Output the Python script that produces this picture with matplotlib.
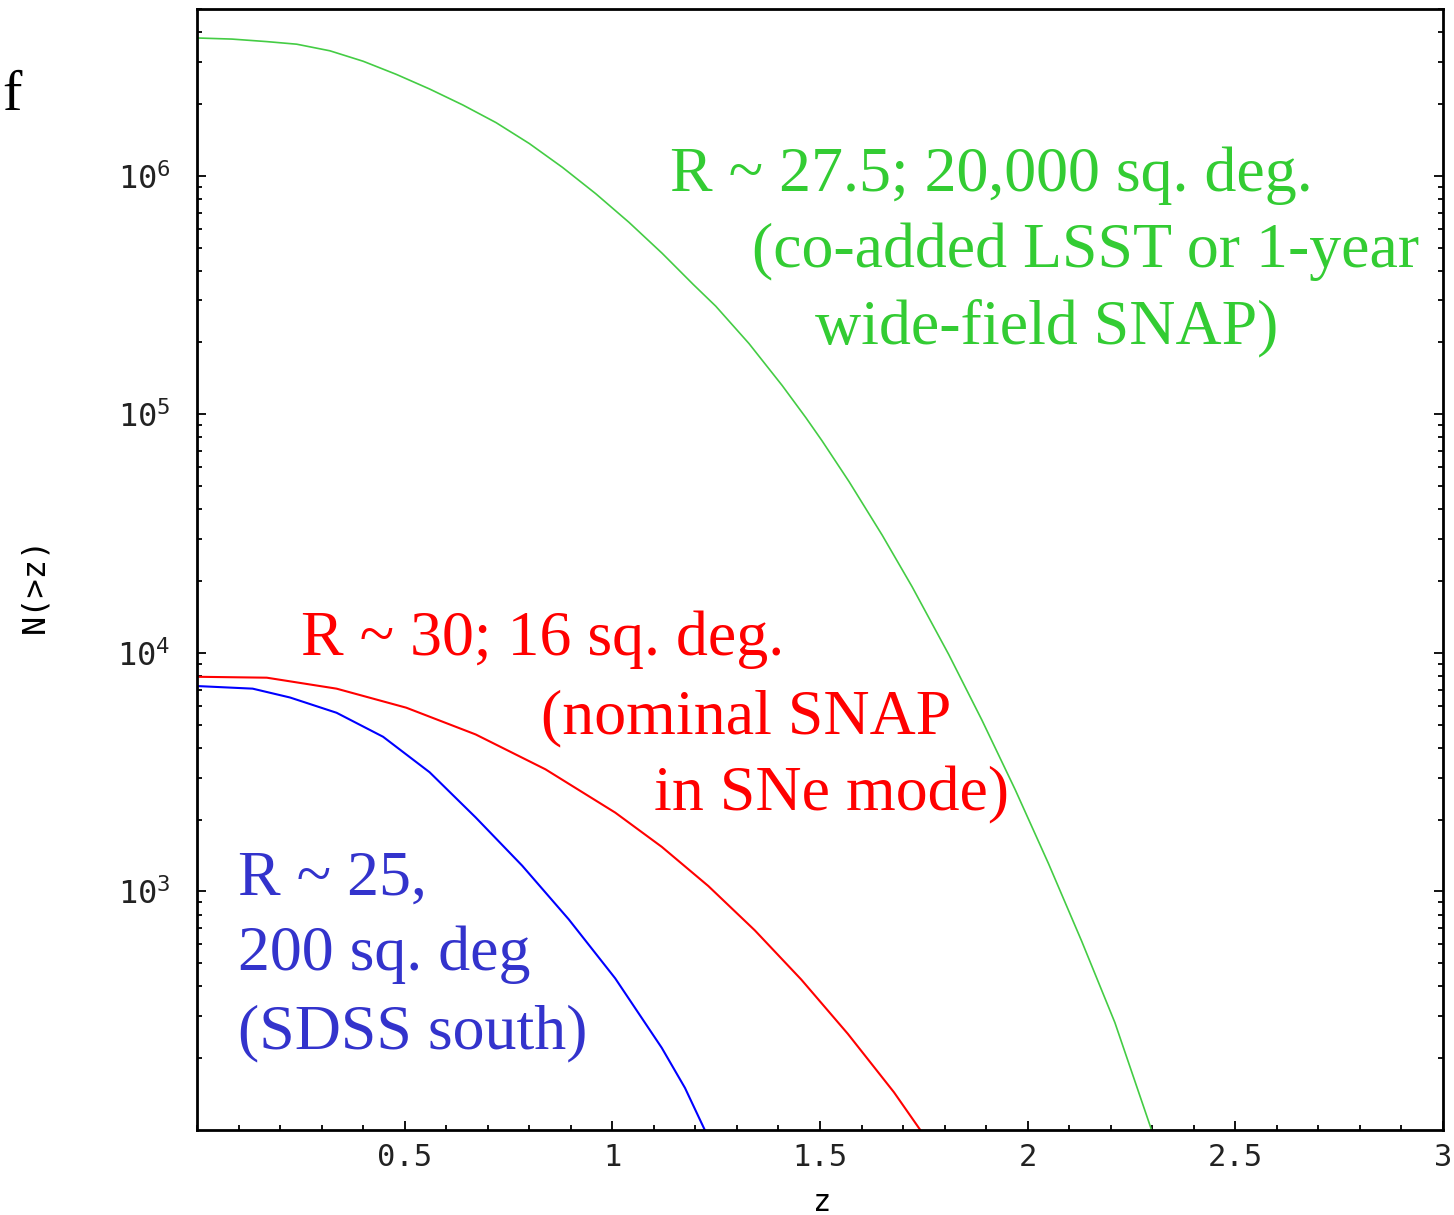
import matplotlib
matplotlib.use("Agg")

import matplotlib.pyplot as plt
import numpy as np
from matplotlib.ticker import FixedLocator, FixedFormatter, LogLocator, MultipleLocator, NullFormatter

# z and N(>z)
z_green = [0, 0.084, 0.168, 0.24, 0.32, 0.40, 0.48, 0.56, 0.64, 0.72, 0.80, 0.88, 0.96, 1.04,
           1.12, 1.195, 1.249, 1.329, 1.409, 1.466, 1.505, 1.57, 1.65, 1.722, 1.81, 1.89, 1.97,
           2.05, 2.13, 2.21, 2.30]
n_green = [3.78e6, 3.74e6, 3.65e6, 3.56e6, 3.34e6, 3.02e6, 2.66e6, 2.31e6, 1.98e6, 1.67e6, 1.365e6,
           1.084e6, 8.41e5, 6.38e5, 4.73e5, 3.50e5, 2.84e5, 1.98e5, 1.32e5, 9.68e4, 7.74e4, 5.22e4,
           3.11e4, 1.89e4, 9840, 5220, 2670, 1310, 619, 282, 98]

z_red = [0, 0.168, 0.336, 0.504, 0.671, 0.839, 1.007, 1.119, 1.231, 1.343, 1.455, 1.567, 1.678, 1.745]
n_red = [7940, 7870, 7080, 5890, 4550, 3250, 2140, 1538, 1054, 687, 427, 253, 144, 98]

z_blue = [0, 0.134, 0.224, 0.336, 0.448, 0.560, 0.671, 0.783, 0.895, 1.007, 1.119, 1.175, 1.225]
n_blue = [7260, 7080, 6500, 5610, 4450, 3160, 2042, 1282, 764, 432, 221, 150, 98]

x_ticks = [0.5, 1, 1.5, 2, 2.5, 3]
x_ticklabels = ["0.5", "1", "1.5", "2", "2.5", "3"]
y_ticks = [1e3, 1e4, 1e5, 1e6]
y_ticklabels = [r"$\mathregular{10^{3}}$", r"$\mathregular{10^{4}}$",
                r"$\mathregular{10^{5}}$", r"$\mathregular{10^{6}}$"]

W, H = 1454, 1215
fig = plt.figure(figsize=(W / 100, H / 100), dpi=100)
ax = fig.add_axes([197 / W, 1 - 1130 / H, 1246 / W, 1121 / H])

ax.plot(z_green, n_green, color="#44cc44", lw=1.2)
ax.plot(z_red, n_red, color="#ff0000", lw=1.5)
ax.plot(z_blue, n_blue, color="#0000ff", lw=1.5)

ax.set_yscale("log")
ax.set_xlim(0, 3)
ax.set_ylim(100, 5e6)

mono = "DejaVu Sans Mono"
ax.xaxis.set_major_locator(FixedLocator(x_ticks))
ax.xaxis.set_major_formatter(FixedFormatter(x_ticklabels))
ax.xaxis.set_minor_locator(MultipleLocator(0.1))
ax.yaxis.set_major_locator(FixedLocator(y_ticks))
ax.yaxis.set_major_formatter(FixedFormatter(y_ticklabels))
ax.yaxis.set_minor_locator(LogLocator(base=10, subs=np.arange(2, 10)))
ax.yaxis.set_minor_formatter(NullFormatter())

ax.tick_params(which="both", direction="in", top=False, right=True, width=1.3, color="black")
ax.tick_params(which="major", length=6.5)
ax.tick_params(which="minor", length=3.8)
ax.tick_params(axis="x", which="major", pad=9, labelsize=22, labelcolor="#222222")
ax.tick_params(axis="y", which="major", pad=19, labelsize=23, labelcolor="#222222")
for lab in ax.get_xticklabels() + ax.get_yticklabels():
    lab.set_family(mono)

for sp in ax.spines.values():
    sp.set_linewidth(2)

ax.set_xlabel("z", fontsize=22, family=mono)
ax.set_ylabel("N(>z)", fontsize=23, family=mono)
ax.xaxis.set_label_coords(0.5016, -0.052)
ax.yaxis.set_label_coords(-0.118, 0.486)

serif = "Liberation Serif"
def ptext(x, y, s, color, size=46):
    fig.text(x / W, 1 - y / H, s, color=color, fontsize=size, family=serif,
             ha="left", va="baseline")

# green annotation
ptext(670, 191, "R ~ 27.5; 20,000 sq. deg.", "#33cc33")
ptext(752, 267, "(co-added LSST or 1-year", "#33cc33")
ptext(815, 343, "wide-field SNAP)", "#33cc33")

# red annotation
ptext(301, 655, "R ~ 30; 16 sq. deg.", "#ff0000")
ptext(541, 733, "(nominal SNAP", "#ff0000")
ptext(654, 810, "in SNe mode)", "#ff0000")

# blue annotation
ptext(238, 895, "R ~ 25,", "#3333cc")
ptext(238, 970, "200 sq. deg", "#3333cc")
ptext(238, 1048, "(SDSS south)", "#3333cc")

ptext(2, 110, "f", "black", size=42)

fig.savefig("out.png", dpi=100)
